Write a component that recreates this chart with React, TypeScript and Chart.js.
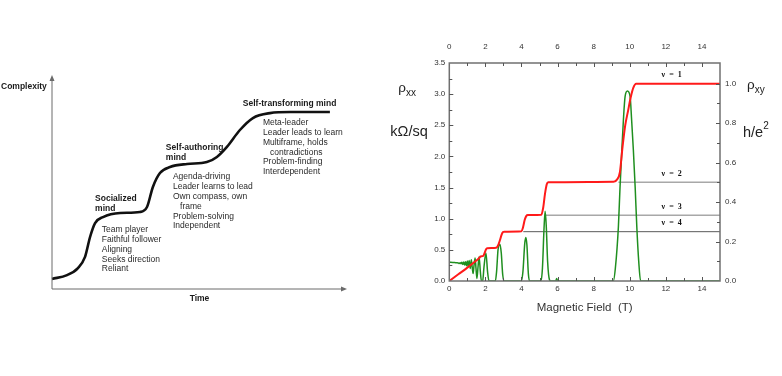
import React, { useEffect, useRef } from 'react';
import { Chart, registerables } from 'chart.js';

Chart.register(...registerables);

// ---------- Left chart: stages of mind (conceptual curve) ----------
const curveTime = [0, 5.1, 8.8, 11.2, 12.9, 14.6, 17.3, 23.1, 29.8, 32.2, 34.2, 36.6, 40.0, 45.8, 52.5, 55.9, 59.3, 63.7, 68.1, 73.9, 80.7, 94.2];
const curveComplexity = [4.7, 6.5, 9.8, 15.0, 24.3, 30.8, 33.6, 35.5, 36.0, 38.3, 47.7, 54.2, 57.0, 58.4, 59.3, 61.7, 66.4, 74.3, 79.9, 82.2, 82.7, 82.7];

const stageTitles = [['Socialized', 'mind'], ['Self-authoring', 'mind'], ['Self-transforming mind']];
const stageTraits = [
  ['Team player', 'Faithful follower', 'Aligning', 'Seeks direction', 'Reliant'],
  ['Agenda-driving', 'Leader learns to lead', 'Own compass, own', '   frame', 'Problem-solving', 'Independent'],
  ['Meta-leader', 'Leader leads to learn', 'Multiframe, holds', '   contradictions', 'Problem-finding', 'Interdependent'],
];
const yAxisLabel = 'Complexity';
const xAxisLabel = 'Time';

// anchors (in chart data units) for the annotation blocks
const titleAnchors = [[14.6, 42.1], [38.6, 65.9], [64.7, 86.4]];
const traitAnchors = [[16.9, 27.6], [41.0, 52.3], [71.5, 77.6]];

// ---------- Right chart: quantum Hall effect ----------
const hallField = [0, 0.5, 1.0, 1.5, 1.68, 1.72, 1.88, 1.95, 2.03, 2.1, 2.6, 2.7, 2.8, 2.9, 2.98, 3.05, 4.0, 4.08, 4.18, 4.27, 4.35, 5.1, 5.2, 5.3, 5.4, 5.48, 9.1, 9.3, 9.45, 9.6, 9.75, 9.9, 10.05, 10.2, 10.35, 15];
const hallRho = [0, 0.034, 0.068, 0.104, 0.118, 0.124, 0.127, 0.14, 0.16, 0.166, 0.168, 0.18, 0.205, 0.235, 0.248, 0.25, 0.252, 0.27, 0.31, 0.33, 0.334, 0.336, 0.37, 0.44, 0.49, 0.5, 0.503, 0.515, 0.55, 0.68, 0.79, 0.86, 0.93, 0.98, 1.0, 1.0];

const longField = [0, 0.2, 0.4, 0.5, 0.55, 0.6, 0.65, 0.7, 0.75, 0.8, 0.85, 0.9, 0.95, 1.0, 1.05, 1.1, 1.16, 1.22, 1.27, 1.32, 1.37, 1.43, 1.48, 1.53, 1.59, 1.65, 1.72, 1.78, 1.85, 1.92, 2.03, 2.12, 2.2, 2.55, 2.62, 2.7, 2.8, 2.88, 2.96, 3.05, 3.98, 4.08, 4.18, 4.24, 4.3, 4.38, 4.45, 5.08, 5.16, 5.25, 5.31, 5.37, 5.45, 5.55, 5.62, 5.9, 5.95, 6.0, 9.09, 9.2, 9.37, 9.46, 9.56, 9.65, 9.74, 9.87, 10.02, 10.1, 10.2, 10.3, 10.39, 10.5, 10.6, 15];
const longRho = [0.3, 0.298, 0.292, 0.29, 0.28, 0.295, 0.275, 0.3, 0.265, 0.305, 0.255, 0.31, 0.245, 0.32, 0.23, 0.33, 0.2, 0.34, 0.22, 0.12, 0.25, 0.37, 0.2, 0.04, 0.22, 0.39, 0.15, 0.0, 0.0, 0.22, 0.45, 0.15, 0.0, 0.0, 0.15, 0.5, 0.59, 0.45, 0.1, 0.0, 0.0, 0.15, 0.6, 0.7, 0.58, 0.12, 0.0, 0.0, 0.2, 0.85, 1.12, 0.9, 0.3, 0.02, 0.0, 0.0, 0.04, 0.0, 0.0, 0.2, 0.87, 1.5, 2.1, 2.6, 2.96, 3.05, 2.96, 2.6, 2.1, 1.5, 0.87, 0.3, 0.0, 0.0];

const fillingFactors = [1, 2, 3, 4];
const plateauLevels = [1, 1 / 2, 1 / 3, 1 / 4];
const plateauLineStart = [NaN, 9.37, 5.34, 4.1];

const xTitle = 'Magnetic Field  (T)';

const SANS = '"Liberation Sans", Arial, sans-serif';
const SERIF = '"Liberation Serif", "Times New Roman", serif';

function LeftChart() {
  const ref = useRef<HTMLCanvasElement>(null);
  useEffect(() => {
    const canvas = ref.current!;
    const plugin = {
      id: 'concept',
      afterDraw(chart: any) {
        const { ctx, chartArea: a, scales } = chart;
        const x = scales.x, y = scales.y;
        ctx.save();
        // axes with arrows
        ctx.strokeStyle = '#6a6a6a';
        ctx.fillStyle = '#6a6a6a';
        ctx.lineWidth = 1;
        ctx.beginPath();
        ctx.moveTo(a.left, a.bottom);
        ctx.lineTo(a.left, a.top + 4);
        ctx.moveTo(a.left, a.bottom);
        ctx.lineTo(a.right - 4, a.bottom);
        ctx.stroke();
        ctx.beginPath();
        ctx.moveTo(a.left, a.top);
        ctx.lineTo(a.left - 2.5, a.top + 6);
        ctx.lineTo(a.left + 2.5, a.top + 6);
        ctx.closePath();
        ctx.fill();
        ctx.beginPath();
        ctx.moveTo(a.right, a.bottom);
        ctx.lineTo(a.right - 6, a.bottom - 2.5);
        ctx.lineTo(a.right - 6, a.bottom + 2.5);
        ctx.closePath();
        ctx.fill();

        ctx.textBaseline = 'middle';
        ctx.fillStyle = '#1a1a1a';
        ctx.font = `bold 8.5px ${SANS}`;
        ctx.textAlign = 'left';
        ctx.fillText(yAxisLabel, 1, a.top + 12);
        ctx.textAlign = 'center';
        ctx.fillText(xAxisLabel, (a.left + a.right) / 2, a.bottom + 10);

        ctx.textAlign = 'left';
        stageTitles.forEach((lines, i) => {
          const px = x.getPixelForValue(titleAnchors[i][0]);
          const py = y.getPixelForValue(titleAnchors[i][1]);
          ctx.font = `bold 8.5px ${SANS}`;
          ctx.fillStyle = '#1a1a1a';
          lines.forEach((t, j) => ctx.fillText(t, px, py + j * 10));
        });
        stageTraits.forEach((lines, i) => {
          const px = x.getPixelForValue(traitAnchors[i][0]);
          const py = y.getPixelForValue(traitAnchors[i][1]);
          ctx.font = `8.5px ${SANS}`;
          ctx.fillStyle = '#2a2a2a';
          lines.forEach((t, j) => {
            const trimmed = t.replace(/^\s+/, '');
            const indent = t.length - trimmed.length;
            const off = indent ? ctx.measureText(' '.repeat(indent)).width : 0;
            ctx.fillText(trimmed, px + off, py + j * 9.8);
          });
        });
        ctx.restore();
      },
    };
    const chart = new Chart(canvas, {
      type: 'line',
      data: {
        datasets: [
          {
            data: curveTime.map((t, i) => ({ x: t, y: curveComplexity[i] })),
            borderColor: '#111',
            borderWidth: 2.6,
            pointRadius: 0,
            cubicInterpolationMode: 'monotone',
            fill: false,
            clip: false as any,
          },
        ],
      },
      options: {
        responsive: false,
        animation: false,
        layout: { padding: { left: 52, right: 33, top: 75, bottom: 87 } },
        plugins: { legend: { display: false }, tooltip: { enabled: false } },
        scales: {
          x: { type: 'linear', min: 0, max: 100, display: false },
          y: { type: 'linear', min: 0, max: 100, display: false },
        },
      },
      plugins: [plugin],
    } as any);
    return () => chart.destroy();
  }, []);
  return <canvas ref={ref} width={380} height={376} style={{ width: 380, height: 376, display: 'block' }} />;
}

function RightChart() {
  const ref = useRef<HTMLCanvasElement>(null);
  useEffect(() => {
    const canvas = ref.current!;
    const tickFont = { family: SANS, size: 8 };
    const frameColor = '#707070';
    const plugin = {
      id: 'qhe',
      afterDatasetsDraw(chart: any) {
        const { ctx, chartArea: a, scales } = chart;
        ctx.save();
        ctx.strokeStyle = frameColor;
        ctx.lineWidth = 1.5;
        ctx.strokeRect(a.left, a.top, a.right - a.left, a.bottom - a.top);
        ctx.lineWidth = 1;
        ctx.strokeStyle = '#555';
        ctx.beginPath();
        for (let v = 1; v < 15; v += 1) {
          const px = Math.round(scales.x.getPixelForValue(v)) + 0.5;
          const len = v % 2 === 0 ? 4 : 3;
          ctx.moveTo(px, a.bottom);
          ctx.lineTo(px, a.bottom - len);
          ctx.moveTo(px, a.top);
          ctx.lineTo(px, a.top + len);
        }
        for (let k = 1; k < 14; k++) {
          const v = k * 0.25;
          const py = Math.round(scales.y.getPixelForValue(v)) + 0.5;
          const len = k % 2 === 0 ? 4 : 3;
          ctx.moveTo(a.left, py);
          ctx.lineTo(a.left + len, py);
        }
        for (let k = 1; k <= 10; k++) {
          const v = k * 0.1;
          const py = Math.round(scales.y2.getPixelForValue(v)) + 0.5;
          const len = k % 2 === 0 ? 4 : 3;
          ctx.moveTo(a.right, py);
          ctx.lineTo(a.right - len, py);
        }
        ctx.stroke();
        ctx.restore();
      },
      afterDraw(chart: any) {
        const { ctx, chartArea: a, scales } = chart;
        ctx.save();
        ctx.fillStyle = '#222';
        ctx.textAlign = 'left';
        ctx.textBaseline = 'alphabetic';
        // left titles (relative to plot area)
        const lx0 = a.left - 51;
        ctx.font = `13.5px ${SANS}`;
        ctx.fillText('ρ', lx0, a.top + 29);
        const rw = ctx.measureText('ρ').width;
        ctx.font = `10px ${SANS}`;
        ctx.fillText('xx', lx0 + rw, a.top + 33);
        ctx.font = `14.5px ${SANS}`;
        ctx.fillText('kΩ/sq', a.left - 59, a.top + 73);
        // right titles
        const rx0 = a.right + 27;
        ctx.font = `13.5px ${SANS}`;
        ctx.fillText('ρ', rx0, a.top + 26);
        const rw2 = ctx.measureText('ρ').width;
        ctx.font = `10px ${SANS}`;
        ctx.fillText('xy', rx0 + rw2, a.top + 29.5);
        ctx.font = `14.5px ${SANS}`;
        ctx.fillText('h/e', a.right + 23, a.top + 74);
        const hw = ctx.measureText('h/e').width;
        ctx.font = `10px ${SANS}`;
        ctx.fillText('2', a.right + 23 + hw, a.top + 66);
        // x title
        ctx.font = `11.5px ${SANS}`;
        ctx.fillStyle = '#333';
        ctx.textAlign = 'center';
        ctx.textBaseline = 'middle';
        ctx.fillText(xTitle, (a.left + a.right) / 2, a.bottom + 27);
        // filling factor labels
        ctx.font = `bold 8px ${SERIF}`;
        (ctx as any).letterSpacing = '1px';
        ctx.fillStyle = '#111';
        const lx = scales.x.getPixelForValue(12.35);
        fillingFactors.forEach((n, i) => {
          const py = scales.y2.getPixelForValue(plateauLevels[i]) - 8.5;
          ctx.fillText(`ν = ${n}`, lx, py);
        });
        ctx.restore();
      },
    };

    const lineDatasets = fillingFactors
      .map((n, i) => ({ n, i }))
      .filter(({ i }) => !isNaN(plateauLineStart[i]))
      .map(({ i }) => ({
        data: [
          { x: plateauLineStart[i], y: plateauLevels[i] },
          { x: 15, y: plateauLevels[i] },
        ],
        yAxisID: 'y2',
        borderColor: i === 3 ? '#5a5a5a' : '#a8a8a8',
        borderWidth: i === 3 ? 1 : 1.5,
        pointRadius: 0,
        order: 3,
      }));

    const chart = new Chart(canvas, {
      type: 'line',
      data: {
        datasets: [
          {
            data: hallField.map((b, i) => ({ x: b, y: hallRho[i] })),
            yAxisID: 'y2',
            borderColor: '#ff1a1a',
            borderWidth: 2,
            pointRadius: 0,
            cubicInterpolationMode: 'monotone',
            order: 0,
          },
          {
            data: longField.map((b, i) => ({ x: b, y: longRho[i] })),
            yAxisID: 'y',
            borderColor: '#1f8f1f',
            borderWidth: 1.5,
            pointRadius: 0,
            cubicInterpolationMode: 'monotone',
            order: 1,
          },
          ...lineDatasets,
        ],
      },
      options: {
        responsive: false,
        animation: false,
        layout: { padding: 0 },
        plugins: { legend: { display: false }, tooltip: { enabled: false } },
        scales: {
          x: {
            type: 'linear', position: 'bottom', min: 0, max: 15,
            ticks: { stepSize: 2, padding: 3, font: tickFont, color: '#333', maxRotation: 0, autoSkip: false },
            grid: { display: false, drawTicks: false },
            border: { display: false },
            afterBuildTicks: (s: any) => { s.ticks = s.ticks.filter((t: any) => Math.abs(t.value / 2 - Math.round(t.value / 2)) < 1e-6); },
            afterFit: (s: any) => { s.height = 95; },
          },
          x2: {
            type: 'linear', axis: 'x', position: 'top', min: 0, max: 15,
            ticks: { stepSize: 2, padding: 11, font: tickFont, color: '#333', maxRotation: 0, autoSkip: false },
            grid: { display: false, drawTicks: false },
            border: { display: false },
            afterBuildTicks: (s: any) => { s.ticks = s.ticks.filter((t: any) => Math.abs(t.value / 2 - Math.round(t.value / 2)) < 1e-6); },
            afterFit: (s: any) => { s.height = 63; },
          },
          y: {
            type: 'linear', position: 'left', min: 0, max: 3.5,
            ticks: { stepSize: 0.5, padding: 4, font: tickFont, color: '#333', callback: (v: any) => Number(v).toFixed(1) },
            grid: { display: false, drawTicks: false },
            border: { display: false },
            afterFit: (s: any) => { s.width = 69.3; },
          },
          y2: {
            type: 'linear', position: 'right', min: 0, max: 1.105,
            ticks: { stepSize: 0.2, padding: 5, font: tickFont, color: '#333', callback: (v: any) => Number(v).toFixed(1) },
            grid: { display: false, drawTicks: false },
            border: { display: false },
            afterBuildTicks: (s: any) => { s.ticks = s.ticks.filter((t: any) => t.value <= 1.0001); },
            afterFit: (s: any) => { s.width = 62; },
          },
        },
      },
      plugins: [plugin],
    } as any);
    return () => chart.destroy();
  }, []);
  return <canvas ref={ref} width={402} height={376} style={{ width: 402, height: 376, display: 'block' }} />;
}

export default function App() {
  return (
    <div style={{ position: 'absolute', left: 0, top: 0, width: 782, height: 376, background: '#fff', overflow: 'hidden' }}>
      <div style={{ position: 'absolute', left: 0, top: 0, width: 380, height: 376 }}>
        <LeftChart />
      </div>
      <div style={{ position: 'absolute', left: 380, top: 0, width: 402, height: 376 }}>
        <RightChart />
      </div>
    </div>
  );
}
